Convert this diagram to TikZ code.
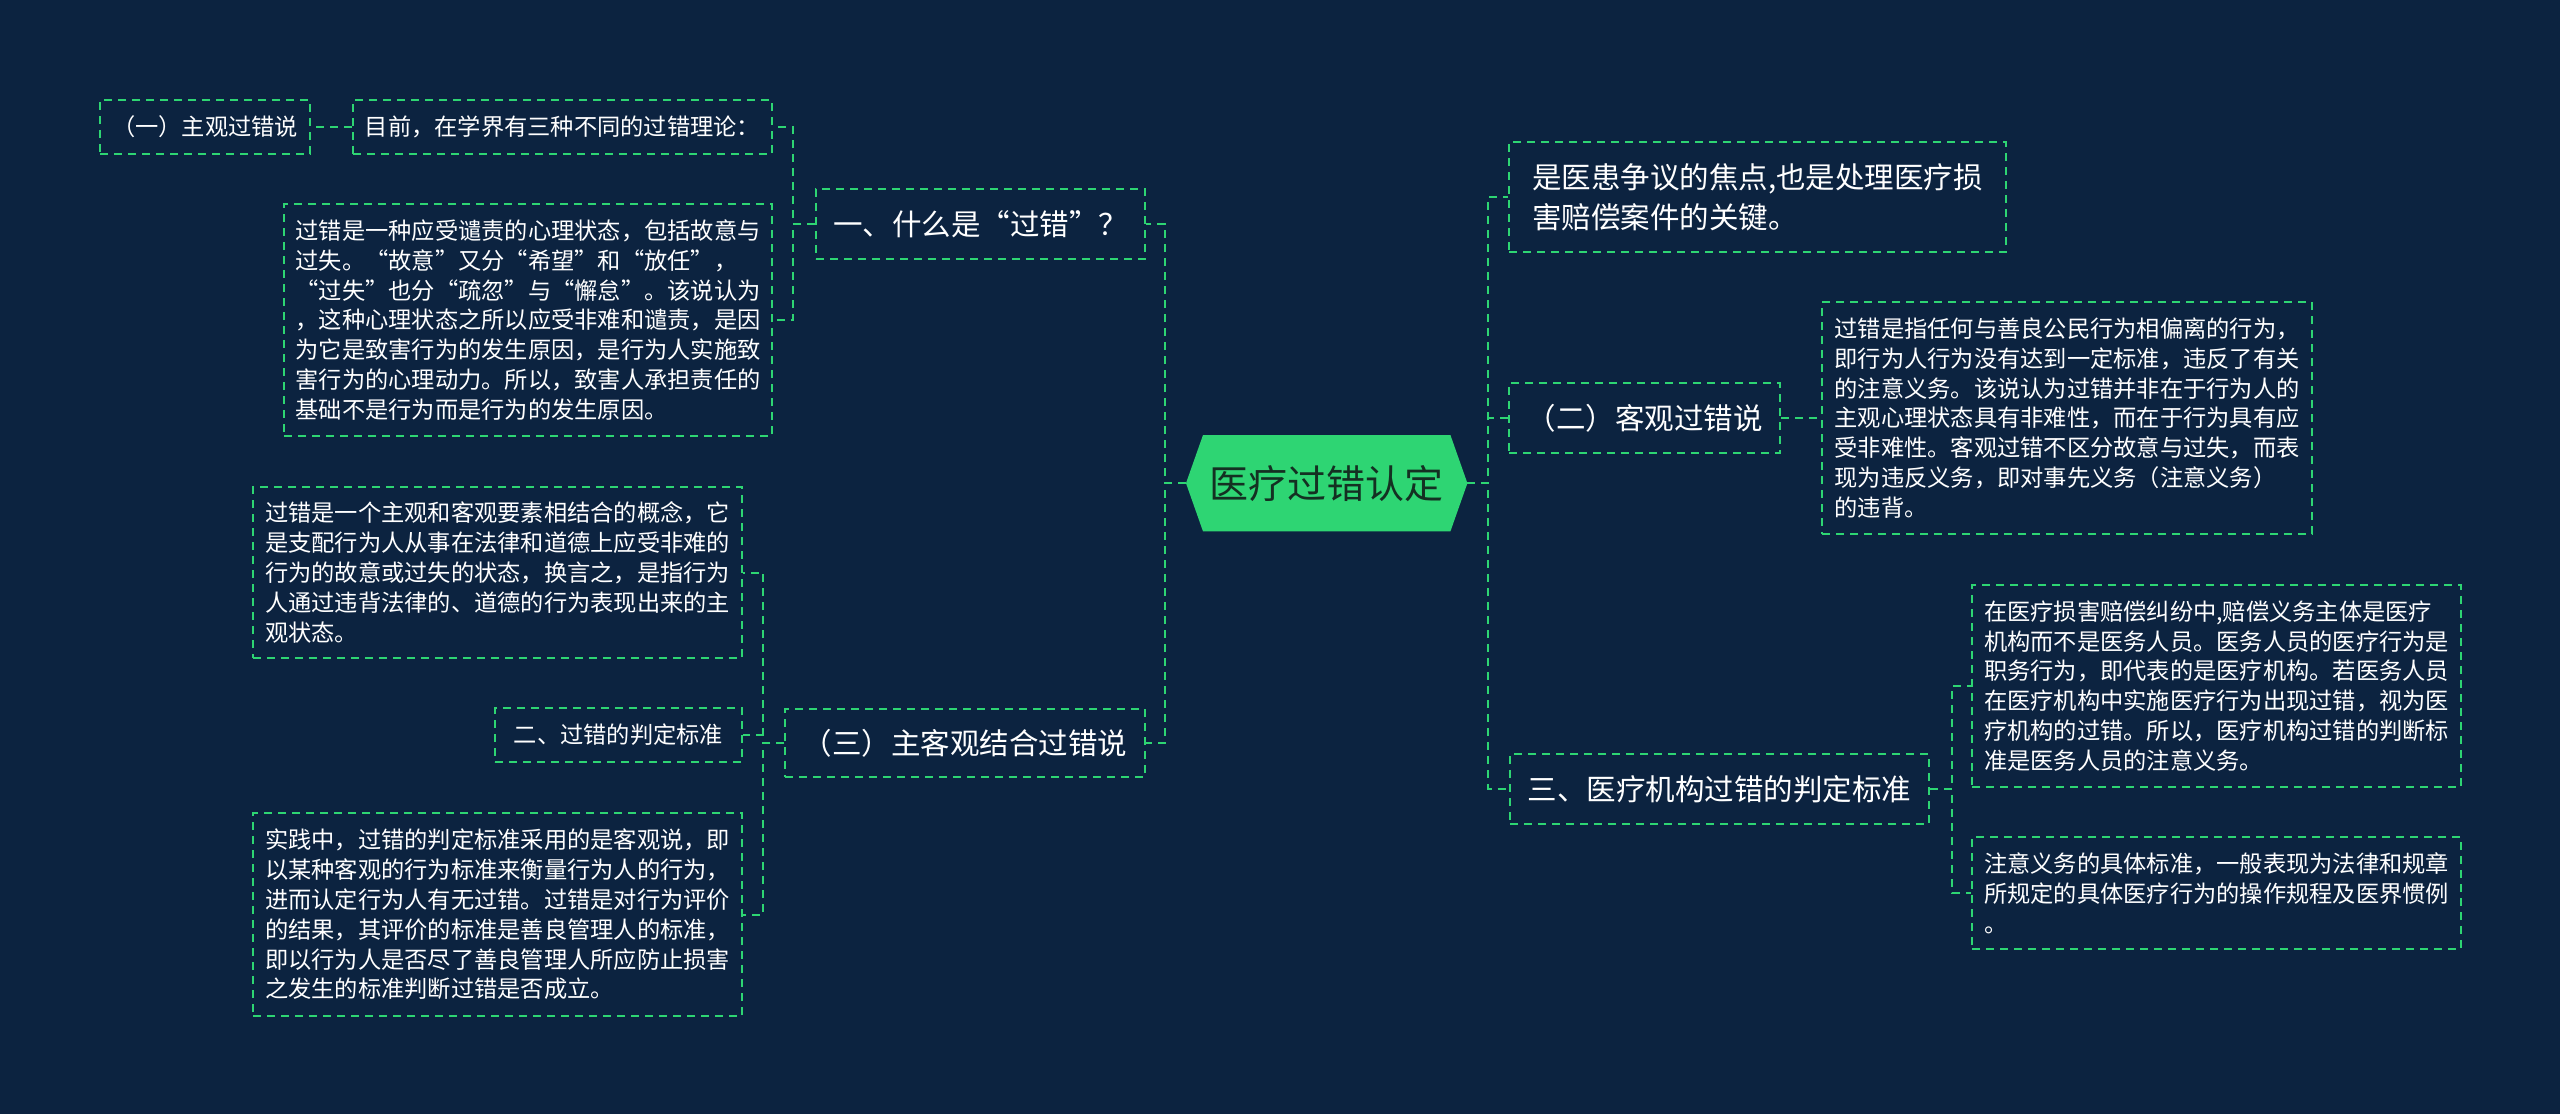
\documentclass[tikz,border=0pt]{standalone}
\usepackage{fontspec}
\setmainfont{Noto Sans CJK SC}
\definecolor{bg}{RGB}{12,35,64}
\definecolor{lk}{RGB}{46,213,115}
\definecolor{roottext}{RGB}{20,48,34}
\begin{document}
\begin{tikzpicture}[x=1pt,y=-1pt,
  box/.style={draw=lk, line width=2pt, dash pattern=on 8pt off 6pt, text=white,
    inner sep=0pt, anchor=north west, align=left},
  smalltxt/.style={font=\fontsize{23.25}{29.8}\selectfont},
  bigtxt/.style={font=\fontsize{29.5}{40}\selectfont},
  link/.style={draw=lk, line width=2pt, dash pattern=on 8pt off 6pt}]
\fill[bg] (0,0) rectangle (2560,1114);
\useasboundingbox (0,0) rectangle (2560,1114);

% root
\node[inner sep=0pt, minimum width=281pt, minimum height=96pt, anchor=north west] (root) at (1186,435) {};
\fill[lk] (root.west) -- ([xshift=17pt]root.north west) -- ([xshift=-17pt]root.north east)
  -- (root.east) -- ([xshift=-17pt]root.south east) -- ([xshift=17pt]root.south west) -- cycle;
\node[text=roottext, font=\fontsize{39}{46}\selectfont] (roottxt) at (root.center) {医疗过错认定};

% left side
\node[box, bigtxt, minimum width=329pt, minimum height=70pt] (n1) at (815,188) {一、什么是“过错”？};
\node[box, bigtxt, minimum width=360pt, minimum height=68pt] (n3) at (784,708) {（三）主客观结合过错说};

\node[box, smalltxt, minimum width=419pt, minimum height=54pt] (mq) at (352,99) {目前，在学界有三种不同的过错理论：};
\node[box, smalltxt, minimum width=210pt, minimum height=54pt] (zg) at (99,99) {（一）主观过错说};
\node[box, smalltxt, minimum width=488pt, minimum height=232pt] (A) at (283,203) {过错是一种应受谴责的心理状态，包括故意与\\过失。“故意”又分“希望”和“放任”，\\“过失”也分“疏忽”与“懈怠”。该说认为\\，这种心理状态之所以应受非难和谴责，是因\\为它是致害行为的发生原因，是行为人实施致\\害行为的心理动力。所以，致害人承担责任的\\基础不是行为而是行为的发生原因。};

\node[box, smalltxt, minimum width=489pt, minimum height=171pt] (B) at (252,486) {过错是一个主观和客观要素相结合的概念，它\\是支配行为人从事在法律和道德上应受非难的\\行为的故意或过失的状态，换言之，是指行为\\人通过违背法律的、道德的行为表现出来的主\\观状态。};
\node[box, smalltxt, minimum width=247pt, minimum height=54pt] (pd) at (494,707) {二、过错的判定标准};
\node[box, smalltxt, minimum width=489pt, minimum height=203pt] (C) at (252,812) {实践中，过错的判定标准采用的是客观说，即\\以某种客观的行为标准来衡量行为人的行为，\\进而认定行为人有无过错。过错是对行为评价\\的结果，其评价的标准是善良管理人的标准，\\即以行为人是否尽了善良管理人所应防止损害\\之发生的标准判断过错是否成立。};

% right side
\node[box, bigtxt, minimum width=497pt, minimum height=110pt] (G) at (1508,141) {是医患争议的焦点,也是处理医疗损\\害赔偿案件的关键。};
\node[box, bigtxt, minimum width=271pt, minimum height=70pt] (ek) at (1508,382) {（二）客观过错说};
\node[box, bigtxt, minimum width=419pt, minimum height=70pt] (s3) at (1509,753) {三、医疗机构过错的判定标准};

\node[box, smalltxt, minimum width=490pt, minimum height=232pt] (D) at (1821,301) {过错是指任何与善良公民行为相偏离的行为，\\即行为人行为没有达到一定标准，违反了有关\\的注意义务。该说认为过错并非在于行为人的\\主观心理状态具有非难性，而在于行为具有应\\受非难性。客观过错不区分故意与过失，而表\\现为违反义务，即对事先义务（注意义务）\\的违背。};
\node[box, smalltxt, minimum width=489pt, minimum height=202pt] (E) at (1971,584) {在医疗损害赔偿纠纷中,赔偿义务主体是医疗\\机构而不是医务人员。医务人员的医疗行为是\\职务行为，即代表的是医疗机构。若医务人员\\在医疗机构中实施医疗行为出现过错，视为医\\疗机构的过错。所以，医疗机构过错的判断标\\准是医务人员的注意义务。};
\node[box, smalltxt, minimum width=489pt, minimum height=112pt] (F) at (1971,836) {注意义务的具体标准，一般表现为法律和规章\\所规定的具体医疗行为的操作规程及医界惯例\\。};

% connectors
\draw[link] (root.west) -- ++(-21,0) |- (n1.east);
\draw[link] (root.west) -- ++(-21,0) |- (n3.east);
\draw[link] (root.east) -- ++(21,0) |- (G.west);
\draw[link] (root.east) -- ++(21,0) |- (ek.west);
\draw[link] (root.east) -- ++(21,0) |- (s3.west);

\draw[link] (n1.west) -- ++(-22,0) |- (mq.east);
\draw[link] (n1.west) -- ++(-22,0) |- (A.east);
\draw[link] (mq.west) -- (zg.east);

\draw[link] (n3.west) -- ++(-21,0) |- (B.east);
\draw[link] (n3.west) -- ++(-21,0) |- (pd.east);
\draw[link] (n3.west) -- ++(-21,0) |- (C.east);

\draw[link] (ek.east) -- (D.west);
\draw[link] (s3.east) -- ++(22,0) |- (E.west);
\draw[link] (s3.east) -- ++(22,0) |- (F.west);
\end{tikzpicture}
\end{document}
